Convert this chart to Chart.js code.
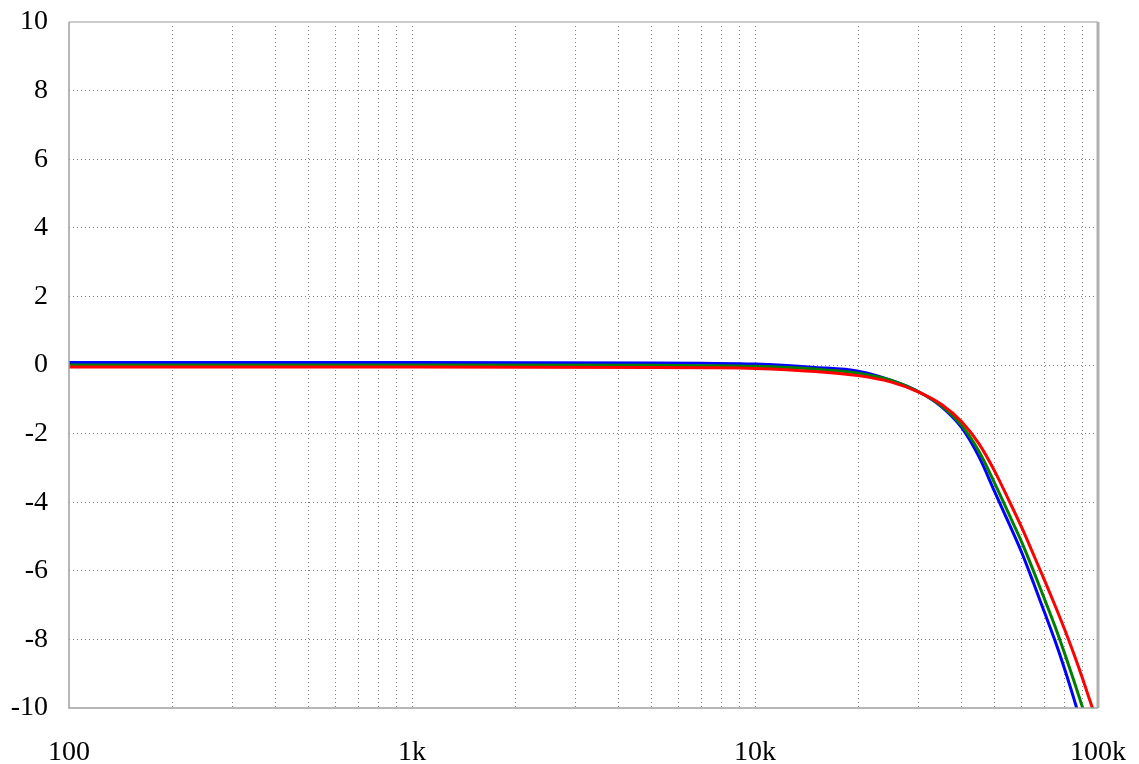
<!DOCTYPE html>
<html>
<head>
<meta charset="utf-8">
<script src="https://cdn.jsdelivr.net/npm/chart.js@4/dist/chart.umd.min.js"></script>
<style>
  html, body { margin: 0; padding: 0; background: #fff; }
  #wrap { width: 1139px; height: 764px; }
</style>
</head>
<body>
<div id="wrap"><canvas id="chart"></canvas></div>
<script>
// frequency points (Hz) shared by the three traces
const freqs = [100, 1000, 5000, 7000, 10000, 15000, 20000, 25000, 30000, 35000, 40000, 45000,
  50000, 55000, 60000, 65000, 70000, 75000, 80000, 85000, 90000, 95000, 100000]

// gain in dB
const dbRed = [-0.06, -0.06, -0.07, -0.08, -0.10, -0.19, -0.31, -0.50, -0.79, -1.15, -1.65, -2.30,
  -3.10, -3.95, -4.75, -5.55, -6.30, -7.02, -7.72, -8.42, -9.12, -9.82, -10.5]
const dbGreen = [0.0, 0.0, -0.01, -0.02, -0.04, -0.12, -0.24, -0.45, -0.78, -1.20, -1.76, -2.52,
  -3.45, -4.35, -5.18, -6.03, -6.85, -7.63, -8.42, -9.20, -9.96, -10.7, -11.4]
const dbBlue = [0.07, 0.07, 0.06, 0.05, 0.03, -0.07, -0.18, -0.45, -0.78, -1.22, -1.82, -2.68,
  -3.70, -4.62, -5.48, -6.38, -7.24, -8.05, -8.88, -9.72, -10.55, -11.35, -12.1]

// axis ticks
const xTicks = [100, 200, 300, 400, 500, 600, 700, 800, 900,
  1000, 2000, 3000, 4000, 5000, 6000, 7000, 8000, 9000,
  10000, 20000, 30000, 40000, 50000, 60000, 70000, 80000, 90000, 100000]
const xTickLabels = { 100: '100', 1000: '1k', 10000: '10k', 100000: '100k' }
const yTicks = [-10, -8, -6, -4, -2, 0, 2, 4, 6, 8, 10]

const toPoints = (ys) => freqs.map((f, i) => ({ x: f, y: ys[i] }))

const serif = '"Liberation Serif", "Times New Roman", serif'
const clear = 'rgba(0,0,0,0)'

// solid frame round the plot area
const framePlugin = {
  id: 'frame',
  afterDatasetsDraw(chart) {
    const { ctx, chartArea: a } = chart
    ctx.save()
    ctx.lineWidth = 2
    ctx.strokeStyle = '#cccccc'
    ctx.beginPath(); ctx.moveTo(a.left, a.top); ctx.lineTo(a.right, a.top); ctx.stroke()
    ctx.strokeStyle = '#b0b0b0'
    ctx.lineWidth = 3
    ctx.beginPath(); ctx.moveTo(a.right, a.top); ctx.lineTo(a.right, a.bottom); ctx.stroke()
    ctx.lineWidth = 1.5
    ctx.strokeStyle = '#a0a0a0'
    ctx.beginPath(); ctx.moveTo(a.left, a.top); ctx.lineTo(a.left, a.bottom); ctx.lineTo(a.right, a.bottom); ctx.stroke()
    ctx.restore()
  }
}

const lineSet = (label, ys, color) => ({
  label: label,
  data: toPoints(ys),
  borderColor: color,
  backgroundColor: color,
  borderWidth: 3,
  pointRadius: 0,
  cubicInterpolationMode: 'monotone',
  clip: 0
})

new Chart(document.getElementById('chart'), {
  type: 'line',
  data: {
    datasets: [
      lineSet('Red', dbRed, '#ff0000'),
      lineSet('Green', dbGreen, '#008000'),
      lineSet('Blue', dbBlue, '#0000ff')
    ]
  },
  options: {
    responsive: true,
    maintainAspectRatio: false,
    animation: false,
    layout: { padding: { top: 22, right: 41, left: 0, bottom: 0 } },
    plugins: { legend: { display: false }, tooltip: { enabled: false } },
    scales: {
      x: {
        type: 'logarithmic',
        min: 100,
        max: 100000,
        afterBuildTicks: (scale) => { scale.ticks = xTicks.map(v => ({ value: v })) },
        afterFit: (scale) => {
          scale.height = 56
          scale.paddingLeft = 0
          scale.paddingRight = 0
        },
        border: { display: false, dash: [1, 3] },
        grid: {
          drawTicks: false,
          color: (c) => (c.tick && (c.tick.value === 100 || c.tick.value === 100000)) ? clear : '#808080',
          lineWidth: 1
        },
        ticks: {
          autoSkip: false,
          maxRotation: 0,
          padding: 28,
          color: '#000',
          font: { family: serif, size: 28 },
          callback: (v) => xTickLabels[v] || ''
        }
      },
      y: {
        min: -10,
        max: 10,
        afterBuildTicks: (scale) => { scale.ticks = yTicks.map(v => ({ value: v })) },
        afterFit: (scale) => {
          scale.width = 69
          scale.paddingTop = 0
          scale.paddingBottom = 0
        },
        border: { display: false, dash: [1, 3] },
        grid: {
          drawTicks: false,
          color: (c) => (c.tick && Math.abs(c.tick.value) === 10) ? clear : '#808080',
          lineWidth: 1
        },
        ticks: {
          padding: 21,
          color: '#000',
          font: { family: serif, size: 28 }
        }
      }
    }
  },
  plugins: [framePlugin]
})
</script>
</body>
</html>
